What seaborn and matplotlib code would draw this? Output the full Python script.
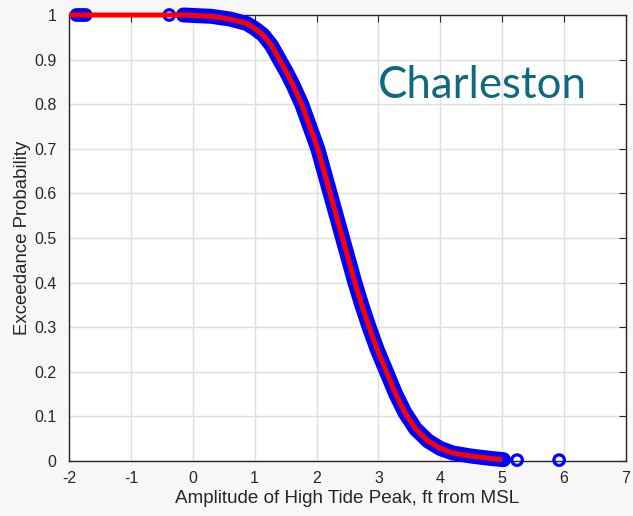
import matplotlib
matplotlib.use("Agg")
import matplotlib.pyplot as plt
import seaborn as sns
import pandas as pd

# Fitted exceedance curve (red)
fit_x = [-2.0, -0.1, 0.30, 0.60, 0.87, 1.00, 1.14, 1.27, 1.40, 1.51, 1.62,
         1.76, 1.89, 2.02, 2.12, 2.22, 2.32, 2.42, 2.52, 2.62, 2.73, 2.85,
         2.98, 3.13, 3.28, 3.43, 3.60, 3.80, 4.00, 4.20, 4.50, 4.80, 5.00]
fit_y = [1.0, 1.0, 0.997, 0.991, 0.981, 0.970, 0.955, 0.932, 0.900, 0.873,
         0.843, 0.800, 0.750, 0.700, 0.650, 0.600, 0.550, 0.500, 0.450,
         0.400, 0.350, 0.300, 0.250, 0.200, 0.150, 0.108, 0.072, 0.045,
         0.028, 0.018, 0.011, 0.006, 0.003]

# Empirical exceedance of observed peaks: dense run along the curve
obs_x = [-0.15, 0.30, 0.60, 0.87, 1.00, 1.14, 1.27, 1.40, 1.51, 1.62,
         1.76, 1.89, 2.02, 2.12, 2.22, 2.32, 2.42, 2.52, 2.62, 2.73, 2.85,
         2.98, 3.13, 3.28, 3.43, 3.60, 3.80, 4.00, 4.20, 4.50, 4.80, 5.02]
obs_y = [1.0, 0.997, 0.991, 0.981, 0.970, 0.955, 0.932, 0.900, 0.873,
         0.843, 0.800, 0.750, 0.700, 0.650, 0.600, 0.550, 0.500, 0.450,
         0.400, 0.350, 0.300, 0.250, 0.200, 0.150, 0.108, 0.072, 0.045,
         0.028, 0.018, 0.011, 0.006, 0.003]

# Isolated extreme observations
tail_x = [-1.88, -1.83, -1.78, -1.73, -0.38, -0.16, 5.02, 5.24, 5.92]
tail_y = [1.0, 1.0, 1.0, 1.0, 1.0, 1.0, 0.003, 0.002, 0.002]

x_ticks = [-2, -1, 0, 1, 2, 3, 4, 5, 6, 7]
y_ticks = [0, 0.1, 0.2, 0.3, 0.4, 0.5, 0.6, 0.7, 0.8, 0.9, 1]
y_tick_labels = ["0", "0.1", "0.2", "0.3", "0.4", "0.5", "0.6", "0.7", "0.8", "0.9", "1"]

sns.set_theme(style="white")
plt.rcParams["font.family"] = ["Liberation Sans", "DejaVu Sans"]

fig = plt.figure(figsize=(6.33, 5.16), dpi=100, facecolor="#f7f7f7")
ax = fig.add_axes([69 / 633, 1 - 461 / 516, 557 / 633, 446 / 516])
ax.set_facecolor("white")

fit = pd.DataFrame({"x": fit_x, "y": fit_y})
obs = pd.DataFrame({"x": obs_x, "y": obs_y})
tail = pd.DataFrame({"x": tail_x, "y": tail_y})

px = 72 / 100  # points per pixel

sns.lineplot(data=obs, x="x", y="y", ax=ax, color="#0000ff",
             linewidth=15 * px, sort=False, estimator=None, zorder=3)
for ln in ax.lines:
    ln.set_clip_on(False)
    ln.set_solid_capstyle("round")
    ln.set_solid_joinstyle("round")

sns.scatterplot(data=tail, x="x", y="y", ax=ax, marker="o", s=(10.5 * px) ** 2,
                facecolor="none", edgecolor="#0000ff", linewidth=3.2 * px,
                zorder=4, clip_on=False)

n_before = len(ax.lines)
sns.lineplot(data=fit, x="x", y="y", ax=ax, color="#ff0000",
             linewidth=5 * px, sort=False, estimator=None, zorder=5)
for ln in ax.lines[n_before:]:
    ln.set_clip_on(False)
    ln.set_solid_capstyle("butt")
    ln.set_solid_joinstyle("round")

ax.set_xlim(-2, 7)
ax.set_ylim(0, 1)
ax.set_xticks(x_ticks)
ax.set_xticklabels([str(t) for t in x_ticks])
ax.set_yticks(y_ticks)
ax.set_yticklabels(y_tick_labels)

ax.grid(True, color="#dedede", linewidth=1.0)
ax.set_axisbelow(True)
for s in ax.spines.values():
    s.set_visible(True)
    s.set_color("#262626")
    s.set_linewidth(1.0)
ax.tick_params(direction="in", length=5, width=0.8, colors="#262626",
               top=True, right=True, labelsize=11.5)
ax.tick_params(axis="x", pad=7)
ax.tick_params(axis="y", pad=9)

ax.set_xlabel("Amplitude of High Tide Peak, ft from MSL", fontsize=13.6,
              color="#262626", labelpad=3)
ax.set_ylabel("Exceedance Probability", fontsize=13.4, color="#262626",
              labelpad=2)

ax.text(0.555, 0.814, "Charleston", transform=ax.transAxes, fontsize=31.5,
        family=["Lato", "DejaVu Sans"], color="#0f6a7e",
        ha="left", va="baseline", zorder=6)

fig.savefig("out.png", dpi=100, facecolor=fig.get_facecolor())
